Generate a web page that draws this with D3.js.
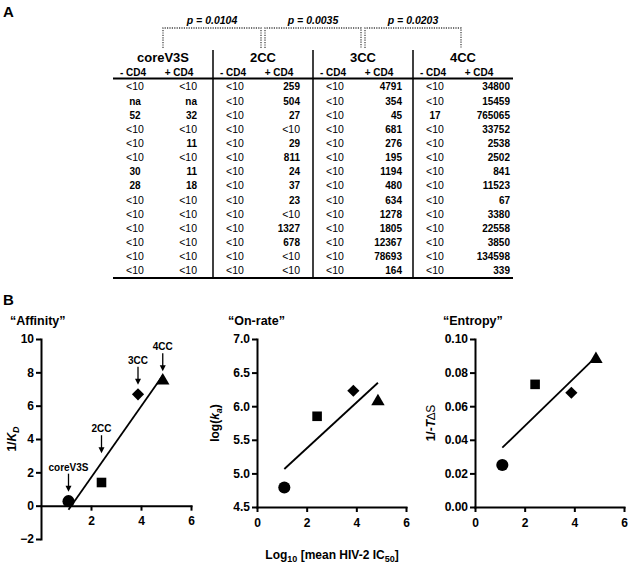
<!DOCTYPE html>
<html><head><meta charset="utf-8">
<script src="https://cdn.jsdelivr.net/npm/d3@7"></script>
<style>body{margin:0;background:#fff}svg{display:block}</style>
</head><body><svg id="chart" width="628" height="565"></svg>
<script>
// ---------- DATA ----------
const groups = ["coreV3S", "2CC", "3CC", "4CC"];
const subHeaders = ["- CD4", "+ CD4"];
const pValues = ["p = 0.0104", "p = 0.0035", "p = 0.0203"];
const coreV3SMinus = ["<10","na","52","<10","<10","<10","30","28","<10","<10","<10","<10","<10","<10"];
const coreV3SPlus  = ["<10","na","32","<10","11","<10","11","18","<10","<10","<10","<10","<10","<10"];
const cc2Minus = ["<10","<10","<10","<10","<10","<10","<10","<10","<10","<10","<10","<10","<10","<10"];
const cc2Plus  = ["259","504","27","<10","29","811","24","37","23","<10","1327","678","<10","<10"];
const cc3Minus = ["<10","<10","<10","<10","<10","<10","<10","<10","<10","<10","<10","<10","<10","<10"];
const cc3Plus  = ["4791","354","45","681","276","195","1194","480","634","1278","1805","12367","78693","164"];
const cc4Minus = ["<10","<10","17","<10","<10","<10","<10","<10","<10","<10","<10","<10","<10","<10"];
const cc4Plus  = ["34800","15459","765065","33752","2538","2502","841","11523","67","3380","22558","3850","134598","339"];

const constructs = ["coreV3S", "2CC", "3CC", "4CC"];
const log10IC50 = [1.1, 2.42, 3.88, 4.87];
const affinity = [0.27, 1.39, 6.68, 7.5];
const onRate = [4.79, 5.85, 6.23, 6.07];
const entropy = [0.025, 0.073, 0.068, 0.088];
const affinityTicks = [-2, 0, 2, 4, 6, 8, 10];
const onRateTicks = [4.5, 5.0, 5.5, 6.0, 6.5, 7.0];
const entropyTicks = [0, 0.02, 0.04, 0.06, 0.08, 0.10];
const xTicks = [0, 2, 4, 6];

// ---------- SETUP ----------
const FONT = '"Liberation Sans", Arial, Helvetica, sans-serif';
const svg = d3.select("#chart").attr("font-family", FONT);

// ---------- PANEL A : TABLE ----------
svg.append("text").attr("x", 3).attr("y", 17).attr("font-size", 15).attr("font-weight", "bold").text("A");

const gx = d3.scaleBand().domain(groups).range([113, 513]);
const rowY = d3.scaleLinear().domain([0, 13]).range([86.7, 270.7]);
const columns = [[coreV3SMinus, coreV3SPlus], [cc2Minus, cc2Plus], [cc3Minus, cc3Plus], [cc4Minus, cc4Plus]];
const plusRight = [84, 87, 89, 97];
const table = svg.append("g");

// p-value brackets
pValues.forEach((p, i) => {
  const c0 = gx(groups[i]) + gx.bandwidth() / 2 + (i > 0 ? 2 : 0);
  const c1 = gx(groups[i + 1]) + gx.bandwidth() / 2 - 2;
  table.append("path")
    .attr("d", `M${c0},48V28H${c1}V48`)
    .attr("fill", "none").attr("stroke", "#444").attr("stroke-width", 1.3)
    .attr("stroke-dasharray", "1.2,1.2");
  table.append("text").attr("x", (c0 + c1) / 2).attr("y", 23.5)
    .attr("text-anchor", "middle").attr("font-size", 10.5)
    .attr("font-weight", "bold").attr("font-style", "italic").text(p);
});

groups.forEach((g, i) => {
  const x0 = gx(g);
  table.append("text").attr("x", x0 + gx.bandwidth() / 2).attr("y", 62)
    .attr("text-anchor", "middle").attr("font-size", 13).attr("font-weight", "bold").text(g);
  table.append("text").attr("x", x0 + 20).attr("y", 75.5)
    .attr("text-anchor", "middle").attr("font-size", 10).attr("font-weight", "bold").text(subHeaders[0]);
  table.append("text").attr("x", x0 + 66).attr("y", 75.5)
    .attr("text-anchor", "middle").attr("font-size", 10).attr("font-weight", "bold").text(subHeaders[1]);
  if (i > 0) {
    table.append("line").attr("x1", x0).attr("x2", x0).attr("y1", 50).attr("y2", 278)
      .attr("stroke", "#000").attr("stroke-width", 1.5);
  }
  const [minus, plus] = columns[i];
  minus.forEach((v, r) => {
    const lt = v === "<10";
    table.append("text").attr("x", x0 + 22).attr("y", rowY(r) + 3.7)
      .attr("text-anchor", "middle").attr("font-size", lt ? 10.5 : 10).attr("fill", "#000")
      .attr("font-weight", lt ? "normal" : "bold").text(v);
  });
  plus.forEach((v, r) => {
    const lt = v === "<10";
    table.append("text").attr("x", x0 + plusRight[i]).attr("y", rowY(r) + 3.7)
      .attr("text-anchor", "end").attr("font-size", lt ? 10.5 : 10).attr("fill", "#000")
      .attr("font-weight", lt ? "normal" : "bold").text(v);
  });
});
table.append("line").attr("x1", 113).attr("x2", 513).attr("y1", 78.5).attr("y2", 78.5).attr("stroke", "#000").attr("stroke-width", 2);
table.append("line").attr("x1", 113).attr("x2", 513).attr("y1", 278).attr("y2", 278).attr("stroke", "#000").attr("stroke-width", 2);

// ---------- PANEL B : SCATTERS ----------
svg.append("text").attr("x", 3).attr("y", 305).attr("font-size", 15).attr("font-weight", "bold").text("B");

function linReg(xs, ys) {
  const mx = d3.mean(xs), my = d3.mean(ys);
  let sxy = 0, sxx = 0;
  xs.forEach((x, i) => { sxy += (x - mx) * (ys[i] - my); sxx += (x - mx) ** 2; });
  const b = sxy / sxx;
  return { a: my - b * mx, b };
}

const symbols = [
  { type: d3.symbolCircle, size: 115, rot: 0 },
  { type: d3.symbolSquare, size: 92, rot: 0 },
  { type: d3.symbolSquare, size: 74, rot: 45 },
  { type: d3.symbolTriangle, size: 78, rot: 0 }
];

function drawPlot(cfg) {
  const x = d3.scaleLinear().domain([0, 6]).range(cfg.xRange);
  const y = d3.scaleLinear().domain(cfg.yDomain).range(cfg.yRange);
  const g = svg.append("g");

  g.append("text").attr("x", cfg.titleX).attr("y", 325).attr("font-size", 12.5)
    .attr("font-weight", "bold").text(cfg.title);

  const ya = g.append("g").attr("transform", `translate(${cfg.xRange[0]},0)`)
    .call(d3.axisLeft(y).tickValues(cfg.yTicks).tickFormat(cfg.yFormat)
      .tickSize(5).tickSizeOuter(0).tickPadding(2));
  const xa = g.append("g").attr("transform", `translate(0,${y(cfg.xAxisAt)})`)
    .call(d3.axisBottom(x).tickValues(cfg.xTicks).tickFormat(d3.format("d"))
      .tickSize(5).tickSizeOuter(0).tickPadding(6));
  [ya, xa].forEach(a => {
    a.attr("font-family", FONT).attr("font-size", 12).attr("font-weight", "bold");
    a.selectAll("path.domain").attr("stroke-width", 2).attr("stroke-linecap", "square");
    a.selectAll(".tick line").attr("stroke-width", 2);
    a.selectAll("text").attr("fill", "#000");
  });

  // y label
  const yl = g.append("text")
    .attr("transform", `translate(${cfg.yLabelX},${(cfg.yRange[0] + cfg.yRange[1]) / 2}) rotate(-90)`)
    .attr("text-anchor", "middle").attr("font-size", 12).attr("font-weight", "bold");
  cfg.yLabel(yl);

  // regression line
  const fit = linReg(log10IC50, cfg.values);
  const x0 = d3.min(log10IC50), x1 = d3.max(log10IC50);
  g.append("line")
    .attr("x1", x(x0)).attr("y1", y(fit.a + fit.b * x0))
    .attr("x2", x(x1)).attr("y2", y(fit.a + fit.b * x1))
    .attr("stroke", "#000").attr("stroke-width", 1.8);

  // points
  cfg.values.forEach((v, i) => {
    const s = symbols[i];
    g.append("path").attr("d", d3.symbol().type(s.type).size(s.size)())
      .attr("transform", `translate(${x(log10IC50[i])},${y(v)}) rotate(${s.rot})`)
      .attr("fill", "#000");
  });

  if (cfg.annotate) {
    cfg.values.forEach((v, i) => {
      const px = x(log10IC50[i]);
      const fitted = fit.a + fit.b * log10IC50[i];
      const anchor = (i === 1) ? y(fitted) : y(v);
      const ty = anchor - 34;
      g.append("text").attr("x", px).attr("y", ty + 3.6).attr("text-anchor", "middle")
        .attr("font-size", 10).attr("font-weight", "bold").text(constructs[i]);
      const tip = anchor - 9.5;
      g.append("line").attr("x1", px).attr("x2", px).attr("y1", ty + 6.5).attr("y2", tip - 5)
        .attr("stroke", "#000").attr("stroke-width", 1.3);
      g.append("path").attr("d", `M${px - 3},${tip - 6}L${px + 3},${tip - 6}L${px},${tip}Z`).attr("fill", "#000");
    });
  }
}

drawPlot({
  title: "\u201cAffinity\u201d", titleX: 10,
  xRange: [41, 191], yDomain: [-2, 10], yRange: [539, 339],
  yTicks: affinityTicks, yFormat: d3.format("d"), xTicks: xTicks.slice(1), xAxisAt: 0,
  values: affinity, yLabelX: 16, annotate: true,
  yLabel: t => {
    t.append("tspan").text("1/");
    t.append("tspan").attr("font-style", "italic").text("K");
    t.append("tspan").attr("font-style", "italic").attr("font-size", 9).attr("dy", 3).text("D");
  }
});
drawPlot({
  title: "\u201cOn-rate\u201d", titleX: 228,
  xRange: [257, 406], yDomain: [4.5, 7.0], yRange: [507, 339],
  yTicks: onRateTicks, yFormat: d3.format(".1f"), xTicks: xTicks, xAxisAt: 4.5,
  values: onRate, yLabelX: 219, annotate: false,
  yLabel: t => {
    t.append("tspan").text("log(");
    t.append("tspan").attr("font-style", "italic").text("k");
    t.append("tspan").attr("font-style", "italic").attr("font-size", 9).attr("dy", 3).text("a");
    t.append("tspan").attr("dy", -3).text(")");
  }
});
drawPlot({
  title: "\u201cEntropy\u201d", titleX: 443,
  xRange: [475, 624], yDomain: [0, 0.10], yRange: [507, 339],
  yTicks: entropyTicks, yFormat: d3.format(".2f"), xTicks: xTicks, xAxisAt: 0,
  values: entropy, yLabelX: 435, annotate: false,
  yLabel: t => {
    t.append("tspan").text("1/-");
    t.append("tspan").attr("font-style", "italic").text("T");
    t.append("tspan").attr("font-weight", "normal").text("\u2206S");
  }
});

// x-axis title
const xt = svg.append("text").attr("x", 332).attr("y", 559).attr("text-anchor", "middle")
  .attr("font-size", 12).attr("font-weight", "bold");
xt.append("tspan").text("Log");
xt.append("tspan").attr("font-size", 9).attr("dy", 3).text("10");
xt.append("tspan").attr("dy", -3).text(" [mean HIV-2 IC");
xt.append("tspan").attr("font-size", 9).attr("dy", 3).text("50");
xt.append("tspan").attr("dy", -3).text("]");
</script></body></html>
